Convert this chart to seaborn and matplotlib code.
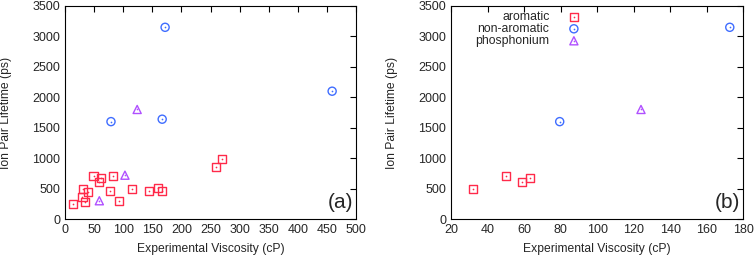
import matplotlib
matplotlib.use("Agg")
import matplotlib.pyplot as plt
import seaborn as sns
import numpy as np

# ---- data panel (a) ----
a_arom_x = [13, 31, 30, 35, 40, 49, 58, 62, 78, 83, 93, 115, 144, 160, 166, 260, 269]
a_arom_y = [250, 490, 365, 275, 440, 700, 605, 680, 455, 710, 290, 500, 460, 515, 460, 855, 980]
a_nonar_x = [79, 172, 167, 459]
a_nonar_y = [1600, 3150, 1640, 2100]
a_phos_x = [59, 103, 124]
a_phos_y = [300, 720, 1800]

# ---- data panel (b) ----
b_arom_x = [32, 50, 59, 63]
b_arom_y = [490, 700, 605, 680]
b_nonar_x = [79.5, 172.6]
b_nonar_y = [1600, 3150]
b_phos_x = [124]
b_phos_y = [1800]

labels = ["aromatic", "non-aromatic", "phosphonium"]
colors = ["#ff2a4a", "#3f6dff", "#b050ff"]
markers = ["s", "o", "^"]

sns.set_style("white")
plt.rcParams['font.family'] = ['Liberation Sans', 'DejaVu Sans']

fig = plt.figure(figsize=(7.56, 2.58), dpi=100)
axa = fig.add_axes([65/756, 1-219/258, (356-65)/756, (219-6)/258])
axb = fig.add_axes([451/756, 1-219/258, (743.3-451)/756, (219-6)/258])

def draw(ax, series):
    handles = []
    for (xs, ys), lab, col, mk in zip(series, labels, colors, markers):
        sns.scatterplot(x=xs, y=ys, ax=ax, marker=mk, s=34, color=col,
                        facecolor="none", edgecolor=col, linewidth=1.0, zorder=3)
        sns.scatterplot(x=xs, y=ys, ax=ax, marker="o", s=1.5, color=col,
                        edgecolor=col, linewidth=0, zorder=4)
        h1 = ax.scatter([], [], marker=mk, s=34, facecolor="none", edgecolor=col, linewidth=1.0)
        h2 = ax.scatter([], [], marker="o", s=1.5, color=col, linewidth=0)
        handles.append((h1, h2))
    return handles

draw(axa, [(a_arom_x, a_arom_y), (a_nonar_x, a_nonar_y), (a_phos_x, a_phos_y)])
hb = draw(axb, [(b_arom_x, b_arom_y), (b_nonar_x, b_nonar_y), (b_phos_x, b_phos_y)])

axa.set_xlim(0, 500)
axa.set_xticks(np.arange(0, 501, 50))
axb.set_xlim(20, 180)
axb.set_xticks(np.arange(20, 181, 20))

for ax, tag in [(axa, "(a)"), (axb, "(b)")]:
    ax.set_ylim(0, 3500)
    ax.set_yticks(np.arange(0, 3501, 500))
    ax.tick_params(direction="in", length=4, width=0.8, top=True, right=True,
                   labelsize=9, pad=3.5, color="black")
    for sp in ax.spines.values():
        sp.set_color("black")
        sp.set_linewidth(0.8)
    ax.set_xlabel("Experimental Viscosity (cP)", fontsize=8.7)
    ax.set_ylabel("Ion Pair Lifetime (ps)", fontsize=8.7)
    ax.yaxis.set_label_coords(-0.182, 0.5)
    ax.xaxis.set_label_coords(0.5, -0.112)
    ax.text(0.99, 0.035, tag, transform=ax.transAxes, ha="right", va="bottom", fontsize=15)

axb.legend(handles=hb, labels=labels, markerfirst=False, frameon=False,
           loc="upper right", bbox_to_anchor=(580/756, 1-11/258),
           bbox_transform=fig.transFigure, fontsize=8.8,
           handlelength=1.0, handletextpad=1.5, labelspacing=0.0,
           borderaxespad=0, borderpad=0)

fig.savefig("out.png", dpi=100)
